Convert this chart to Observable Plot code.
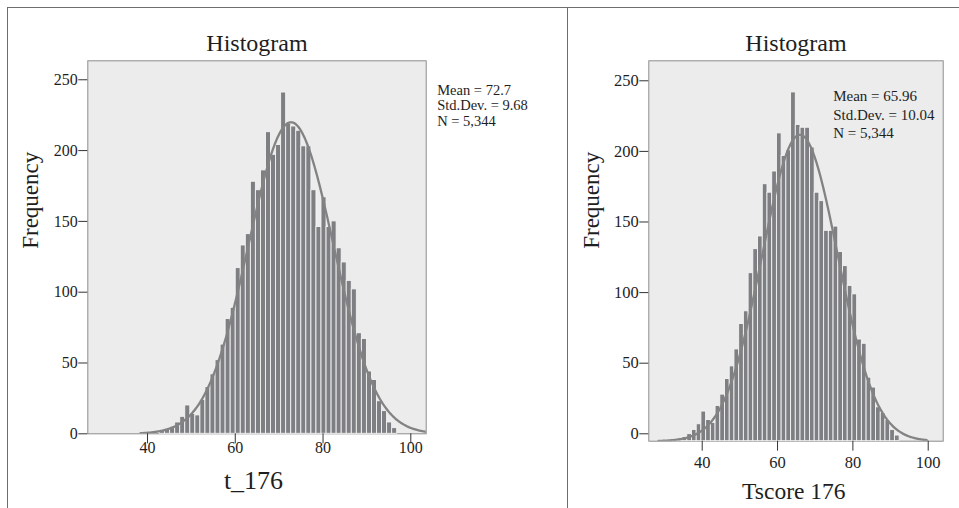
<!DOCTYPE html>
<html><head><meta charset="utf-8">
<script src="https://cdn.jsdelivr.net/npm/d3@7"></script>
<script src="https://cdn.jsdelivr.net/npm/@observablehq/plot@0.6"></script>
<style>
html,body{margin:0;padding:0;background:#fff;}
#wrap{position:relative;width:959px;height:508px;overflow:hidden;background:#fff;}
#wrap svg{position:absolute;top:0;}
.ln{position:absolute;background:#6e6e6e;}
</style></head><body><div id="wrap"></div>
<script>
// ---- data ----
const titles = ["Histogram", "Histogram"];
const xLabels = ["t_176", "Tscore 176"];
const yLabel = "Frequency";
const xTicks = [40, 60, 80, 100];
const yTicks = [0, 50, 100, 150, 200, 250];

// left: t_176
const leftCounts = [2,3,5,8,12,20,14,13,24,33,42,52,63,81,89,117,133,141,178,172,186,213,197,204,241,219,217,214,203,203,172,146,167,146,150,131,121,108,102,71,67,44,38,23,16,8,4];
const leftBinStart = 42.85;
const leftBinWidth = 1.15;
const leftStats = ["Mean = 72.7", "Std.Dev. = 9.68", "N = 5,344"];
const leftMean = 72.7, leftSD = 9.68;
const leftCurvePeak = 220;
const leftCurveRange = [38.4, 103.6];

// right: Tscore 176
const rightCounts = [1,2,3,5,8,12,21,15,13,25,33,44,53,65,83,92,119,136,145,182,176,191,218,202,206,247,224,222,222,208,176,170,149,149,152,134,124,110,104,72,69,45,38,24,20,15,8,4];
const rightBinStart = 32.27;
const rightBinWidth = 1.253;
const rightStats = ["Mean = 65.96", "Std.Dev. = 10.04", "N = 5,344"];
const rightMean = 65.96, rightSD = 10.04;
const rightCurvePeak = 217;
const rightCurveRange = [28.4, 99.7];

const FONT = "'Liberation Serif', 'Times New Roman', serif";
const BAR = "#7e7f83", CURVE = "#838383", BG = "#ebeceb";

function panel(o) {
  const bins = o.counts.map((c, i) => ({x1: o.start + i * o.width, x2: o.start + (i + 1) * o.width, y: c}));
  const curve = d3.range(o.curveRange[0], o.curveRange[1] + 1e-9, 0.2)
    .map(x => ({x, y: o.peak * Math.exp(-0.5 * ((x - o.mean) / o.sd) ** 2)}));
  return Plot.plot({
    width: o.W, height: 508,
    marginLeft: o.mL, marginRight: o.mR, marginTop: 60.3, marginBottom: o.mB,
    x: {domain: o.xDomain},
    y: {domain: o.yDomain},
    style: {fontFamily: FONT, fontSize: "16px", color: "#1e1e1e", background: "transparent", overflow: "visible"},
    marks: [
      Plot.frame({fill: BG, stroke: "#8e8e8e", strokeWidth: 1}),
      Plot.rectY(bins, {x1: "x1", x2: "x2", y: "y", fill: BAR, stroke: "#f4f4f4", strokeWidth: 0.9}),
      Plot.line(curve, {x: "x", y: "y", stroke: CURVE, strokeWidth: 2.3, clip: "frame"}),
      Plot.axisX(xTicks, {tickSize: 10, tickPadding: o.xPad, fontSize: o.tickFont, label: null, stroke: "#333"}),
      Plot.axisY(yTicks, {tickSize: 9, tickPadding: 1, fontSize: o.tickFont, label: null, stroke: "#333", dy: o.yAxisDy}),
      Plot.text([o.title], {text: d => d, frameAnchor: "top", lineAnchor: "bottom", dy: -9.6, fontSize: 24}),
      Plot.text([yLabel], {text: d => d, frameAnchor: "left", rotate: -90, dx: o.yLabDx, dy: o.yLabDy, fontSize: 23}),
      Plot.text([o.xLabel], {text: d => d, frameAnchor: "bottom", lineAnchor: "bottom", dx: o.xLabDx, dy: o.xLabDy, fontSize: o.xLabFont}),
      Plot.text([o.stats.join("\n")], {text: d => d, frameAnchor: o.statAnchor, textAnchor: "start", lineAnchor: "bottom",
        dx: o.statDx, dy: o.statDy, fontSize: o.statFont, lineHeight: o.statLH})
    ]
  });
}

const wrap = document.getElementById("wrap");
const left = panel({
  counts: leftCounts, start: leftBinStart, width: leftBinWidth,
  mean: leftMean, sd: leftSD, peak: leftCurvePeak, curveRange: leftCurveRange,
  W: 567, mL: 87.3, mR: 141.3, mB: 74.7,
  xDomain: [26.39, 103.51], yDomain: [0, 263.4], xPad: -2.4, tickFont: 16, yAxisDy: 0,
  title: titles[0], yLabDx: -56.8, yLabDy: 1.5,
  xLabel: xLabels[0], xLabDx: -3.5, xLabDy: 54.7, xLabFont: 26,
  stats: leftStats, statAnchor: "top-right", statDx: 11, statDy: 65.4, statFont: 14.5, statLH: 1.083
});
left.style.left = "0px";
wrap.appendChild(left);

const right = panel({
  counts: rightCounts, start: rightBinStart, width: rightBinWidth,
  mean: rightMean, sd: rightSD, peak: rightCurvePeak, curveRange: rightCurveRange,
  W: 391, mL: 80.3, mR: 16.3, mB: 67.3,
  xDomain: [25.82, 103.98], yDomain: [0, 269.4], xPad: 4.9, tickFont: 16.5, yAxisDy: -7.4,
  title: titles[1], yLabDx: -57.2, yLabDy: -2.2,
  xLabel: xLabels[1], xLabDx: -2.2, xLabDy: 57.6, xLabFont: 23.5,
  stats: rightStats, statAnchor: "top-left", statDx: 184.4, statDy: 77, statFont: 15, statLH: 1.213
});
right.style.left = "568px";
wrap.appendChild(right);

// outer panel borders
[[6.5, 6.5, 953, 1.6], [6.5, 6.5, 1.6, 502], [566.5, 6.5, 1.6, 502]].forEach(([l, t, w, h]) => {
  const d = document.createElement("div");
  d.className = "ln";
  Object.assign(d.style, {left: l + "px", top: t + "px", width: w + "px", height: h + "px"});
  wrap.appendChild(d);
});
</script></body></html>
